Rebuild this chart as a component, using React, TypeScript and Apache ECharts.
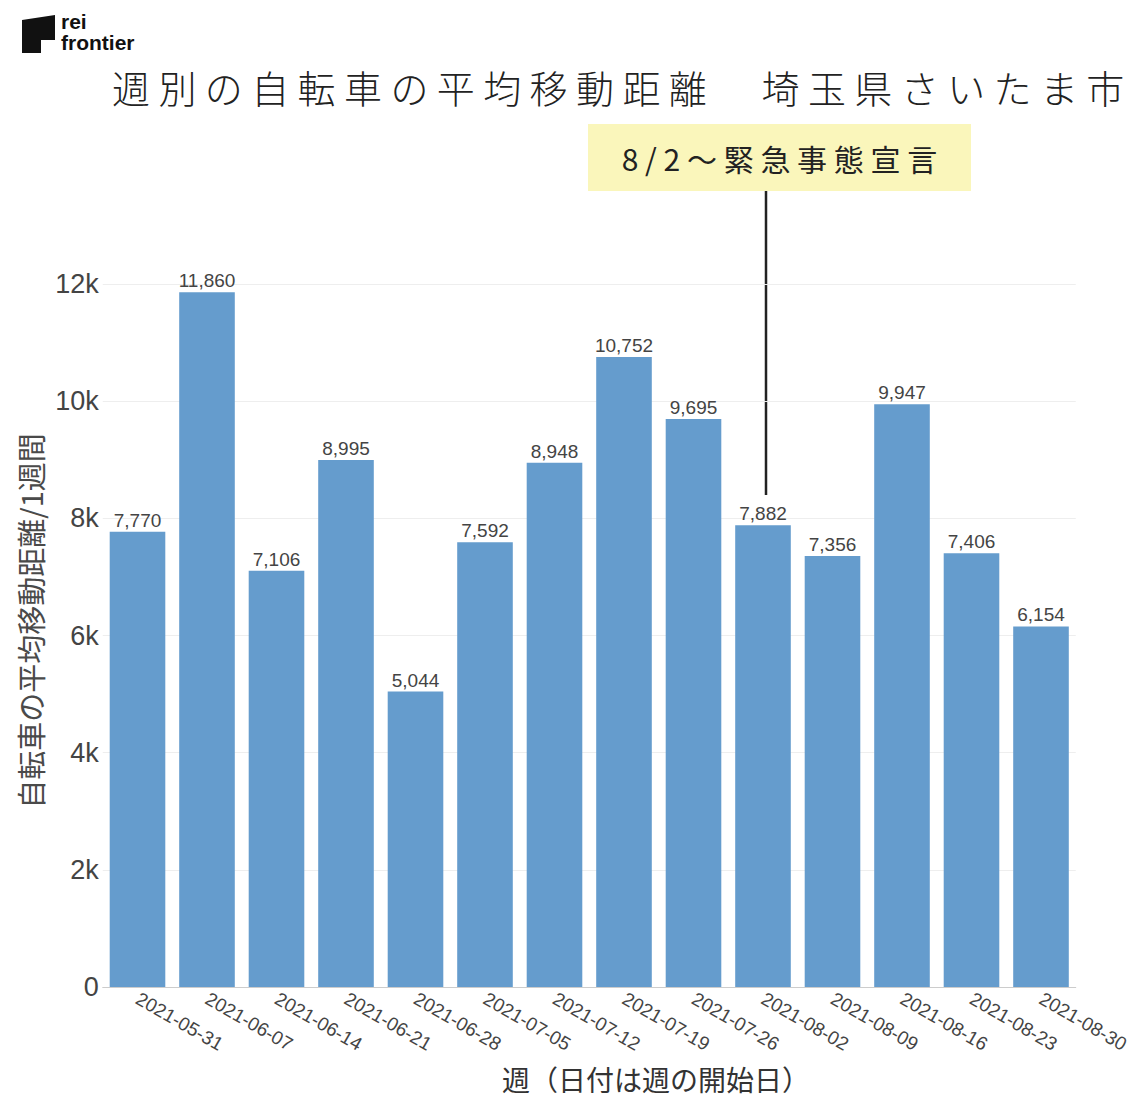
import React, { useEffect, useRef } from "react";
import * as echarts from "echarts";

const categories = [
  "2021-05-31", "2021-06-07", "2021-06-14", "2021-06-21", "2021-06-28",
  "2021-07-05", "2021-07-12", "2021-07-19", "2021-07-26", "2021-08-02",
  "2021-08-09", "2021-08-16", "2021-08-23", "2021-08-30",
];
const distances = [7770, 11860, 7106, 8995, 5044, 7592, 8948, 10752, 9695, 7882, 7356, 9947, 7406, 6154];
const yTicks = [0, 2000, 4000, 6000, 8000, 10000, 12000];
const titleText = "週 別 の 自 転 車 の 平 均 移 動 距 離 　 埼 玉 県 さ い た ま 市";
const annotationText = "8 / 2 〜 緊 急 事 態 宣 言";
const yAxisTitle = "自転車の平均移動距離/1週間";
const xAxisTitle = "週（日付は週の開始日）";
const logoLines = ["rei", "frontier"];

const SANS = "'Liberation Sans', Arial, 'Noto Sans CJK JP', sans-serif";
const CJK = "'Noto Sans CJK JP', 'Noto Sans', sans-serif";

export default function App() {
  const ref = useRef<HTMLDivElement>(null);
  useEffect(() => {
    document.body.style.margin = "0";
    if (!ref.current) return;
    const chart = echarts.init(ref.current, null, { renderer: "svg" });
    chart.setOption({
      animation: false,
      backgroundColor: "#ffffff",
      title: {
        text: titleText,
        left: 107,
        top: 62,
        textStyle: { fontFamily: CJK, fontSize: 38, fontWeight: 300, color: "#222" },
      },
      grid: { left: 102.75, right: 67.25, top: 284, bottom: 113, containLabel: false },
      xAxis: {
        type: "category",
        data: categories,
        axisLine: { lineStyle: { color: "#cccccc", width: 1 } },
        axisTick: { show: false },
        axisLabel: {
          rotate: -30,
          interval: 0,
          margin: 10,
          fontSize: 19,
          color: "#444",
          fontFamily: SANS,
        },
      },
      yAxis: {
        type: "value",
        min: 0,
        max: yTicks[yTicks.length - 1],
        interval: 2000,
        axisLine: { show: false },
        axisTick: { show: false },
        splitLine: { lineStyle: { color: "#eeeeee", width: 1 } },
        axisLabel: {
          fontSize: 27,
          color: "#444",
          margin: 4,
          fontFamily: SANS,
          formatter: (v: number) => (v === 0 ? "0" : v / 1000 + "k"),
        },
      },
      series: [
        {
          type: "bar",
          data: distances,
          barCategoryGap: "20%",
          itemStyle: { color: "#659ccd" },
          label: {
            show: true,
            position: "top",
            distance: 2,
            fontSize: 19,
            color: "#444",
            fontFamily: SANS,
            formatter: (p: any) => p.value.toLocaleString("en-US"),
          },
        },
      ],
      graphic: [
        {
          type: "polygon",
          shape: { points: [[22, 20], [55, 15], [55, 40], [41, 40], [41, 53], [22, 53]] },
          style: { fill: "#111" },
        },
        {
          type: "text",
          left: 61,
          top: 11,
          style: {
            text: logoLines[0],
            fontFamily: SANS,
            fontWeight: "bold",
            fontSize: 21,
            lineHeight: 19,
            fill: "#111",
          },
        },
        {
          type: "text",
          left: 61,
          top: 32,
          style: {
            text: logoLines[1],
            fontFamily: SANS,
            fontWeight: "bold",
            fontSize: 21,
            lineHeight: 19,
            fill: "#111",
          },
        },
        {
          type: "rect",
          shape: { x: 588, y: 124, width: 383, height: 67 },
          style: { fill: "#faf6bb" },
        },
        {
          type: "text",
          x: 779.5,
          y: 157.5,
          style: {
            text: annotationText,
            fontFamily: CJK,
            fontSize: 30,
            fill: "#222",
            align: "center",
            verticalAlign: "middle",
          },
        },
        {
          type: "line",
          shape: { x1: 766, y1: 191, x2: 766, y2: 495 },
          style: { stroke: "#222", lineWidth: 2.5 },
        },
        {
          type: "text",
          x: 30,
          y: 621,
          rotation: Math.PI / 2,
          style: {
            text: yAxisTitle,
            fontFamily: CJK,
            fontSize: 29,
            fill: "#4a4a4a",
            align: "center",
            verticalAlign: "middle",
          },
        },
        {
          type: "text",
          x: 656,
          y: 1079,
          style: {
            text: xAxisTitle,
            fontFamily: CJK,
            fontSize: 28,
            fill: "#333",
            align: "center",
            verticalAlign: "middle",
          },
        },
      ],
    });
    return () => chart.dispose();
  }, []);
  return <div ref={ref} style={{ width: 1143, height: 1100 }} />;
}
